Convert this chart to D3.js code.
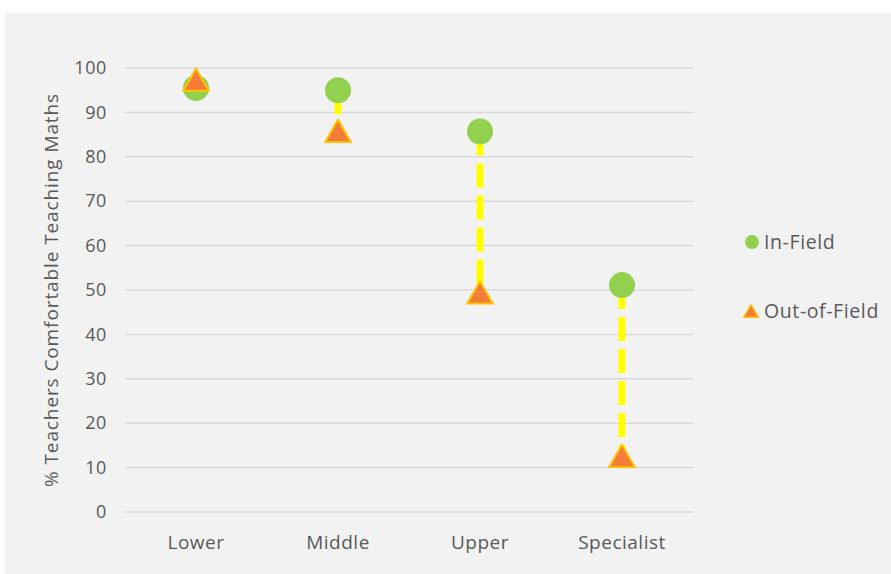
<!DOCTYPE html>
<html>
<head>
<meta charset="utf-8">
<script src="https://cdn.jsdelivr.net/npm/d3@7"></script>
<style>
  body { margin: 0; background: #ffffff; }
  text { font-family: "Open Sans", "Liberation Sans", sans-serif; fill: #595959; }
</style>
</head>
<body>
<svg id="chart" width="891" height="574"></svg>
<script>
// Share of teachers comfortable teaching maths, by school level
const categories = ["Lower", "Middle", "Upper", "Specialist"];
const inField = [95.5, 95, 85.7, 51.1];
const outOfField = [97.3, 85.8, 49.4, 12.6];
const yTicks = [0, 10, 20, 30, 40, 50, 60, 70, 80, 90, 100];
const seriesNames = ["In-Field", "Out-of-Field"];

const svg = d3.select("#chart");
const FONT = '"Open Sans", "Liberation Sans", sans-serif';

// panel background
svg.append("rect")
  .attr("x", 5).attr("y", 13)
  .attr("width", 886).attr("height", 561)
  .attr("fill", "#f2f2f2");

const plot = { left: 125, right: 693, top: 68, bottom: 512 };

const x = d3.scaleBand()
  .domain(categories)
  .range([plot.left, plot.right]);

const y = d3.scaleLinear()
  .domain([0, 100])
  .range([plot.bottom, plot.top]);

// horizontal gridlines
svg.append("g")
  .selectAll("line")
  .data(yTicks)
  .join("line")
  .attr("x1", plot.left).attr("x2", plot.right)
  .attr("y1", d => y(d)).attr("y2", d => y(d))
  .attr("stroke", "#d9d9d9")
  .attr("stroke-width", 1.5);

// y axis labels
const yAxis = svg.append("g")
  .attr("transform", `translate(${plot.left - 18},0)`)
  .call(d3.axisLeft(y).tickValues(yTicks).tickSize(0).tickPadding(0));
yAxis.select(".domain").remove();
yAxis.selectAll("text")
  .attr("font-size", 18)
  .attr("letter-spacing", 0.6)
  .attr("fill", "#595959")
  .style("font-family", FONT);

// x axis labels
const xAxis = svg.append("g")
  .attr("transform", `translate(0,${plot.bottom + 23})`)
  .call(d3.axisBottom(x).tickSize(0).tickPadding(0));
xAxis.select(".domain").remove();
xAxis.selectAll("text")
  .attr("font-size", 19)
  .attr("letter-spacing", 0.5)
  .attr("fill", "#595959")
  .style("font-family", FONT);

// y axis title
svg.append("text")
  .attr("transform", `translate(58,${(plot.top + plot.bottom) / 2}) rotate(-90)`)
  .attr("text-anchor", "middle")
  .attr("font-size", 19)
  .attr("letter-spacing", 0.9)
  .text("% Teachers Comfortable Teaching Maths");

const cx = d => x(d) + x.bandwidth() / 2;

// gap connectors
svg.append("g")
  .selectAll("line")
  .data(categories)
  .join("line")
  .attr("x1", d => cx(d)).attr("x2", d => cx(d))
  .attr("y1", (d, i) => y(inField[i]))
  .attr("y2", (d, i) => y(outOfField[i]))
  .attr("stroke", "#ffff00")
  .attr("stroke-width", 7)
  .attr("stroke-dasharray", "24,8");

// in-field points
svg.append("g")
  .selectAll("circle")
  .data(categories)
  .join("circle")
  .attr("cx", d => cx(d))
  .attr("cy", (d, i) => y(inField[i]))
  .attr("r", 13)
  .attr("fill", "#92d050");

// out-of-field points (triangle bbox centred on the value)
const tri = d3.symbol().type(d3.symbolTriangle).size(280);
svg.append("g")
  .selectAll("path")
  .data(categories)
  .join("path")
  .attr("d", tri)
  .attr("transform", (d, i) => `translate(${cx(d)},${y(outOfField[i]) + 3.5})`)
  .attr("fill", "#f47c3a")
  .attr("stroke", "#ffc000")
  .attr("stroke-width", 2);

// legend
const legend = svg.append("g");
legend.append("circle")
  .attr("cx", 752).attr("cy", 242).attr("r", 7)
  .attr("fill", "#92d050");
legend.append("text")
  .attr("x", 764).attr("y", 249)
  .attr("font-size", 19.5)
  .attr("letter-spacing", 0.6)
  .text(seriesNames[0]);
legend.append("path")
  .attr("d", d3.symbol().type(d3.symbolTriangle).size(90)())
  .attr("transform", "translate(751,313)")
  .attr("fill", "#f47c3a")
  .attr("stroke", "#ffc000")
  .attr("stroke-width", 1.5);
legend.append("text")
  .attr("x", 764).attr("y", 318)
  .attr("font-size", 19.5)
  .attr("letter-spacing", 0.6)
  .text(seriesNames[1]);
</script>
</body>
</html>
